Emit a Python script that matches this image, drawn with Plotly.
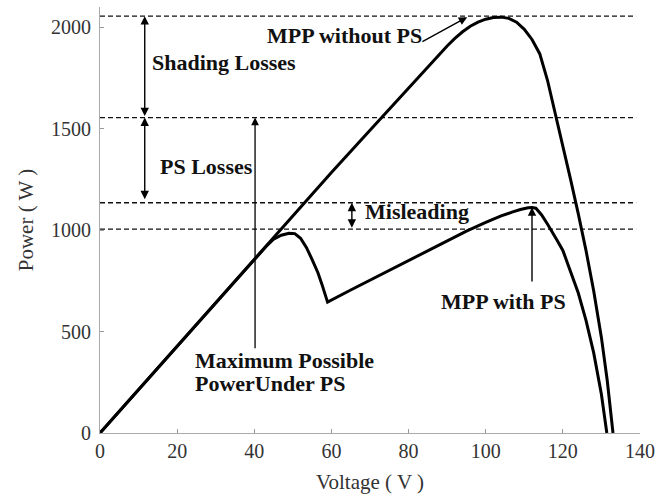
import plotly.graph_objects as go

# ---- data ----
v_no_ps = [0, 20, 40, 60, 70, 80, 85, 88, 90, 92, 94, 96, 98, 100, 102, 104, 106, 108, 110, 112,
           114, 116, 118, 120, 122, 124, 126, 128, 130, 131.5, 133]
p_no_ps = [0, 428, 856, 1284, 1492, 1700, 1805, 1868, 1908, 1945, 1978, 2005, 2025, 2040, 2048, 2050,
           2044, 2025, 1990, 1940, 1870, 1740, 1580, 1420, 1250, 1080, 900, 700, 470, 260, 0]

v_ps = [0, 20, 40, 43, 45, 47, 49, 50.5, 52, 53.5, 55, 56.5, 57.5, 58.5, 59, 65, 70, 75, 80, 85, 90,
        95, 100, 104, 107, 109, 111, 112, 113, 114.5, 116, 117, 118.5, 120, 122, 124, 126, 128, 130, 131.4]
p_ps = [0, 428, 856, 918, 955, 975, 985, 983, 960, 915, 855, 790, 735, 670, 645, 705, 753, 802, 851, 900,
        948, 995, 1038, 1070, 1090, 1102, 1110, 1112, 1108, 1075, 1030, 995, 950, 900, 800, 690, 555, 395, 190, 0]

ref_levels = [2055, 1555, 1135, 1005]
x_ticks = [0, 20, 40, 60, 80, 100, 120, 140]
y_ticks = [0, 500, 1000, 1500, 2000]

SERIF = "Liberation Serif, Times New Roman, serif"
TXT = "#111111"

fig = go.Figure()

for lv in ref_levels:
    fig.add_trace(go.Scatter(x=[0, 139], y=[lv, lv], mode="lines",
                             line=dict(color="#111", width=1.3, dash="5px,3px"),
                             hoverinfo="skip", showlegend=False))

fig.add_trace(go.Scatter(x=v_no_ps, y=p_no_ps, mode="lines",
                         line=dict(color="black", width=3), showlegend=False))
fig.add_trace(go.Scatter(x=v_ps, y=p_ps, mode="lines",
                         line=dict(color="black", width=3), showlegend=False))

def arrow(x, y, ax, ay, both=False, width=1.4):
    fig.add_annotation(x=x, y=y, ax=ax, ay=ay, xref="x", yref="y", axref="x", ayref="y",
                       text="", showarrow=True, arrowhead=2, arrowsize=1.2, arrowwidth=width,
                       arrowcolor="black", arrowside="end+start" if both else "end",
                       startarrowhead=2, startarrowsize=1.2, standoff=0, startstandoff=0)

# double arrows
arrow(11.6, 2055, 11.6, 1555, both=True)
arrow(11.6, 1555, 11.6, 1145, both=True)
arrow(65.3, 1135, 65.3, 1005, both=True)
# single arrows
arrow(95.2, 2050, 83.2, 1925)
arrow(112, 1112, 112, 740)
arrow(40.2, 1555, 40.2, 410, width=1.3)

def label(x, y, text, xanchor="center"):
    fig.add_annotation(x=x, y=y, xref="x", yref="y", text=f"<b>{text}</b>", showarrow=False,
                       xanchor=xanchor, yanchor="middle",
                       font=dict(family=SERIF, size=22, color=TXT))

label(63.5, 1958, "MPP without PS")
label(32.2, 1825, "Shading Losses")
label(27.7, 1312, "PS Losses")
label(82.2, 1090, "Misleading")
label(104.5, 646, "MPP with PS")
label(24.0, 355, "Maximum Possible", xanchor="left")
label(24.0, 242, "PowerUnder PS", xanchor="left")

axis_common = dict(showgrid=False, zeroline=False, showline=True, linecolor="#aaaaaa", linewidth=1,
                   ticks="inside", ticklen=4, tickcolor="#999999", automargin=False,
                   tickfont=dict(family=SERIF, size=20, color="#333333"))

fig.update_xaxes(range=[0, 140], tickvals=x_ticks, **axis_common,
                 title=dict(text="Voltage ( V )", font=dict(family=SERIF, size=21, color="#333333"),
                            standoff=13))
fig.update_yaxes(range=[0, 2100], tickvals=y_ticks, ticklabelstandoff=4, **axis_common,
                 title=dict(text="Power ( W )", font=dict(family=SERIF, size=21, color="#333333"),
                            standoff=11))

fig.update_layout(width=660, height=500, margin=dict(l=100, r=20, t=7, b=67),
                  plot_bgcolor="white", paper_bgcolor="white", showlegend=False)

fig.write_html("out.html", config={"displayModeBar": False},
               post_script="document.body.style.margin='0';")
